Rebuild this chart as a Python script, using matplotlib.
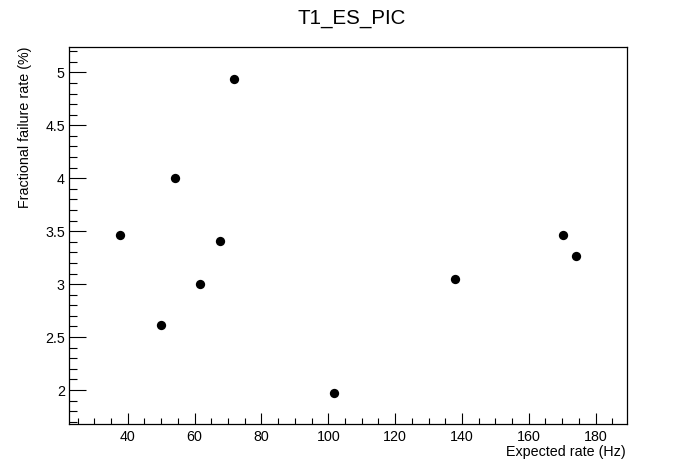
import matplotlib
matplotlib.use("Agg")
from matplotlib import pyplot as plt
from matplotlib.ticker import MultipleLocator, FuncFormatter

# expected rate (Hz) vs fractional failure rate (%)
EXPECTED_RATE = [37.8, 49.8, 54.0, 61.7, 67.7, 71.8, 101.8, 138.0, 170.1, 174.0]
FAILURE_RATE = [3.46, 2.61, 4.00, 3.00, 3.41, 4.94, 1.97, 3.05, 3.46, 3.27]

TITLE = "T1_ES_PIC"
XLABEL = "Expected rate (Hz)"
YLABEL = "Fractional failure rate (%)"

plt.rcParams["font.family"] = ["Liberation Sans", "DejaVu Sans"]

fig = plt.figure(figsize=(6.96, 4.72), dpi=100)
ax = fig.add_axes([0.0991, 0.1017, 0.8013, 0.7993])

ax.plot(EXPECTED_RATE, FAILURE_RATE, "o", color="black", markersize=6.7,
        markeredgewidth=0)

ax.set_xlim(22.4, 189.3)
ax.set_ylim(1.679, 5.242)
ax.xaxis.set_major_locator(MultipleLocator(20))
ax.xaxis.set_minor_locator(MultipleLocator(5))
ax.yaxis.set_major_locator(MultipleLocator(0.5))
ax.yaxis.set_minor_locator(MultipleLocator(0.1))
ax.yaxis.set_major_formatter(FuncFormatter(lambda v, _: f"{v:g}"))

# ROOT-ish axes: inward ticks on left/bottom only
ax.tick_params(axis="both", which="both", direction="in", top=False, right=False,
               width=0.8, labelsize=10.3, color="black")
ax.tick_params(axis="x", which="major", length=8, pad=4.5)
ax.tick_params(axis="x", which="minor", length=4)
ax.tick_params(axis="y", which="major", length=12.3, pad=3)
ax.tick_params(axis="y", which="minor", length=6)
for side in ax.spines.values():
    side.set_linewidth(0.9)

fig.text(351.5 / 696, (472 - 24) / 472, TITLE, ha="center", va="baseline",
         fontsize=14.8)
fig.text(626 / 696, (472 - 456) / 472, XLABEL, ha="right", va="baseline",
         fontsize=10.3)
fig.text(25 / 696, (472 - 47) / 472, YLABEL, ha="center", va="top",
         rotation=90, fontsize=10.3)

fig.savefig("out.png", dpi=100)
